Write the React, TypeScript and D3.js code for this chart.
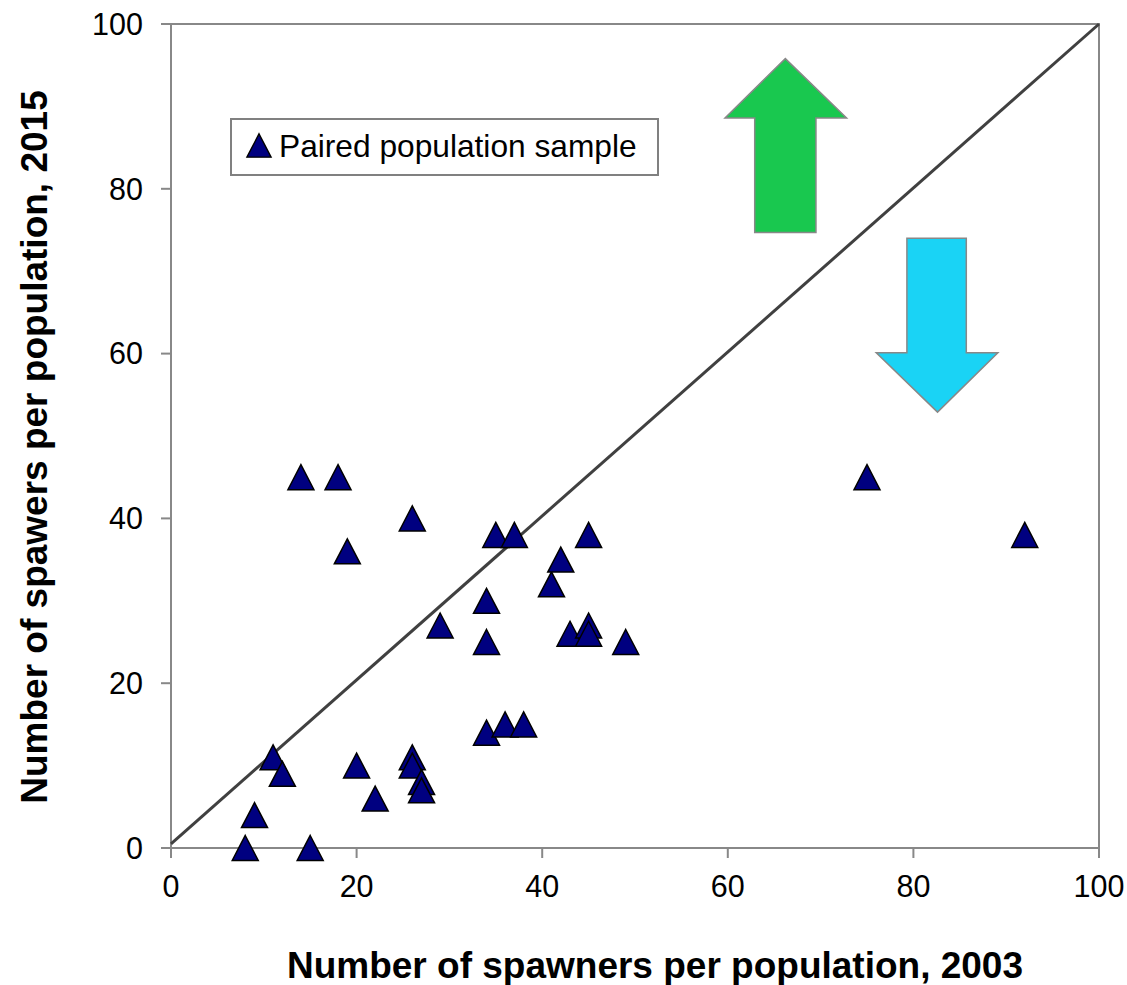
import React from "react";
import * as d3 from "d3";

// Data: number of spawners per population (2003 vs 2015)
const spawners2003 = [8, 15, 9, 11, 12, 20, 22, 26, 26, 27, 27, 29, 14, 18, 19, 26, 34, 34, 34, 36, 38, 35, 37, 41, 42, 43, 45, 45, 45, 49, 75, 92];
const spawners2015 = [0, 0, 4, 11, 9, 10, 6, 11, 10, 8, 7, 27, 45, 45, 36, 40, 30, 25, 14, 15, 15, 38, 38, 32, 35, 26, 27, 26, 38, 25, 45, 38];
const tickValues = [0, 20, 40, 60, 80, 100];
const diagonal = [
  { x: 0, y: 0.5 },
  { x: 100, y: 100 },
];
const seriesName = "Paired population sample";
const xTitle = "Number of spawners per population, 2003";
const yTitle = "Number of spawers per population, 2015";

// Decorative arrows, in data units
const upArrow = [
  [62.9, 74.7], [62.9, 88.6], [59.7, 88.6], [66.2, 95.8], [72.8, 88.6], [69.5, 88.6], [69.5, 74.7],
];
const downArrow = [
  [79.3, 74.0], [79.3, 60.1], [76.0, 60.1], [82.6, 52.9], [89.1, 60.1], [85.7, 60.1], [85.7, 74.0],
];

const W = 1127;
const H = 985;
const FONT = "'Liberation Sans', Arial, sans-serif";

const x = d3.scaleLinear().domain([0, 100]).range([171, 1099]);
const y = d3.scaleLinear().domain([0, 100]).range([848, 24]);

const triPath = "M0,-12.5 L13,12.5 L-13,12.5 Z";

export default function App() {
  const points = spawners2003.map((v, i) => ({ x: v, y: spawners2015[i] }));
  const lineGen = d3
    .line<{ x: number; y: number }>()
    .x((d) => x(d.x))
    .y((d) => y(d.y));
  const arrowPath = (pts: number[][]) =>
    "M" + pts.map((p) => `${x(p[0])},${y(p[1])}`).join("L") + "Z";

  const [x0, x1] = x.range();
  const [y0, y1] = y.range();

  return (
    <svg
      width={W}
      height={H}
      style={{ position: "absolute", left: 0, top: 0, background: "#fff" }}
      fontFamily={FONT}
    >
      <rect x={0} y={0} width={W} height={H} fill="#fff" />
      {/* plot border */}
      <rect x={x0} y={y1} width={x1 - x0} height={y0 - y1} fill="none" stroke="#888" strokeWidth={2} />
      {/* y ticks */}
      {tickValues.map((t) => (
        <g key={"y" + t}>
          <line x1={x0 - 10} x2={x0} y1={y(t)} y2={y(t)} stroke="#888" strokeWidth={2} />
          <text x={143} y={y(t) + 10.8} textAnchor="end" fontSize={30.5} fill="#000">
            {t}
          </text>
        </g>
      ))}
      {/* x ticks */}
      {tickValues.map((t) => (
        <g key={"x" + t}>
          <line x1={x(t)} x2={x(t)} y1={y0} y2={y0 + 10} stroke="#888" strokeWidth={2} />
          <text x={x(t)} y={897} textAnchor="middle" fontSize={30.5} fill="#000">
            {t}
          </text>
        </g>
      ))}
      {/* arrows */}
      <path d={arrowPath(upArrow)} fill="#19C84F" stroke="#888" strokeWidth={1.5} />
      <path d={arrowPath(downArrow)} fill="#1AD3F5" stroke="#888" strokeWidth={1.5} />
      {/* 1:1 line */}
      <path d={lineGen(diagonal) || ""} fill="none" stroke="#404040" strokeWidth={3} />
      {/* points */}
      {points.map((p, i) => (
        <path
          key={i}
          d={triPath}
          transform={`translate(${x(p.x)},${y(p.y)})`}
          fill="#000080"
          stroke="#000"
          strokeWidth={1.5}
          strokeLinejoin="miter"
        />
      ))}
      {/* legend */}
      <rect x={231} y={119} width={427} height={56} fill="#fff" stroke="#808080" strokeWidth={2} />
      <path d={triPath} transform="translate(259,145.5) scale(0.93)" fill="#000080" stroke="#000" strokeWidth={1.5} />
      <text x={279} y={157} fontSize={31.7} fill="#000">
        {seriesName}
      </text>
      {/* axis titles */}
      <text x={655} y={978} textAnchor="middle" fontSize={37} fontWeight="bold" fill="#000">
        {xTitle}
      </text>
      <text
        transform={`translate(47,447) rotate(-90)`}
        textAnchor="middle"
        fontSize={37}
        fontWeight="bold"
        fill="#000"
      >
        {yTitle}
      </text>
    </svg>
  );
}
